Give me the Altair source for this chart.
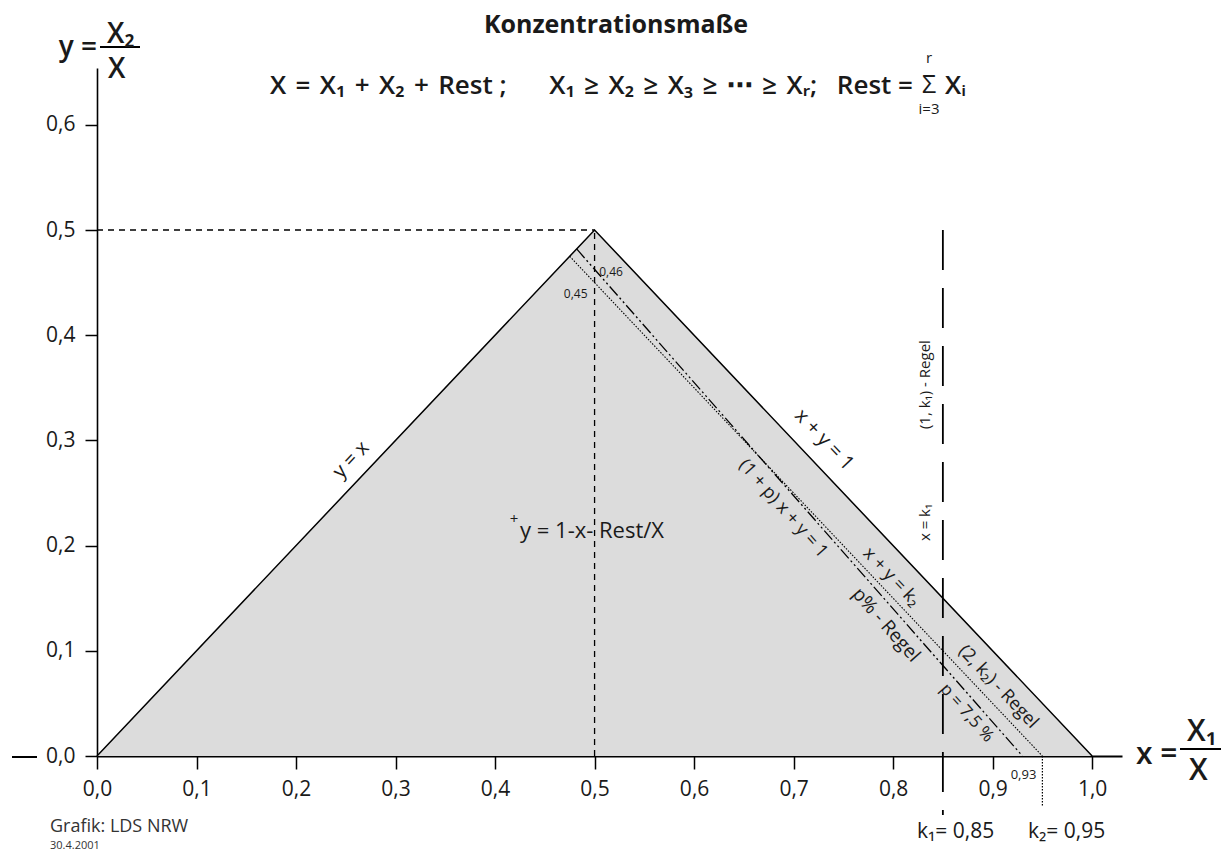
import altair as alt
import pandas as pd

FONT = "Open Sans, Noto Sans, DejaVu Sans, sans-serif"
INK = "#1a1a1a"

# ---- values ----
x_ticks = [0.0, 0.1, 0.2, 0.3, 0.4, 0.5, 0.6, 0.7, 0.8, 0.9, 1.0]
y_ticks = [0.0, 0.1, 0.2, 0.3, 0.4, 0.5, 0.6]

triangle_x = [0.0, 0.5, 1.0]
triangle_y = [0.0, 0.5, 0.0]

k1 = 0.85
k2 = 0.95
peak = 0.5

# segments: x, y, x2, y2
seg_peak_h = [0.0, 0.5, 0.5, 0.5]
seg_peak_v = [0.5, 0.0, 0.5, 0.5]
seg_k1 = [0.85, 0.5, 0.85, -0.056]
seg_k2_below = [0.95, 0.0, 0.95, -0.047]
seg_k2_line = [0.475, 0.475, 0.95, 0.0]      # x + y = k2
seg_p_line = [0.482, 0.482, 0.93, 0.0]       # (1+p)x + y = 1, p = 7,5 %

# annotations inside the plot: text, x, y, angle, size
ann_text = ["y = x", "x + y = 1", "(1 + p) x + y = 1", "x + y = k\u2082", "p% - Regel",
            "(2, k\u2082) - Regel", "p = 7,5 %", "(1, k\u2081) - Regel", "x = k\u2081",
            "0,46", "0,45", "0,93"]
ann_x = [0.2553, 0.7307, 0.6894, 0.798, 0.793, 0.9055, 0.874, 0.832, 0.832, 0.5166, 0.481, 0.931]
ann_y = [0.2815, 0.3005, 0.2349, 0.170, 0.1246, 0.0656, 0.0409, 0.353, 0.222, 0.460, 0.439, -0.018]
ann_angle = [313.4, 46.6, 48.6, 46.6, 48.6, 46.6, 48.6, 270, 270, 0, 0, 0]
ann_size = [20, 20, 18, 18, 19, 18, 17, 15, 15, 12, 12, 13]

# ---- layout ----
OX, OY = 97, 68          # page position of the plot origin
W, H = 1025, 688
XS = alt.Scale(domain=[0, 1.03], nice=False, zero=False)
YS = alt.Scale(domain=[0, 0.654], nice=False, zero=False)

label_expr = "replace(format(datum.value, '.1f'), '.', ',')"
xaxis = alt.Axis(values=x_ticks, labelExpr=label_expr, title=None, grid=False,
                 tickSize=13, tickWidth=1.5, tickColor="black", domainColor="black",
                 domainWidth=2, labelFontSize=21, labelFont=FONT, labelColor=INK,
                 labelPadding=9, labelFlush=False, labelOverlap=False)
yaxis = alt.Axis(values=y_ticks, labelExpr=label_expr, title=None, grid=False,
                 tickSize=12, tickWidth=1.5, tickColor="black", domainColor="black",
                 domainWidth=1.6, labelFontSize=21, labelFont=FONT, labelColor=INK,
                 labelPadding=10, labelFlush=False, labelOverlap=False)


def X(f="x"):
    return alt.X(f + ":Q", scale=XS, axis=xaxis)


def Y(f="y"):
    return alt.Y(f + ":Q", scale=YS, axis=yaxis)


tri = pd.DataFrame({"x": triangle_x, "y": triangle_y})
layers = []
layers.append(alt.Chart(tri).mark_area(color="#dcdcdc").encode(x=X(), y=Y()))
layers.append(alt.Chart(tri).mark_line(color="black", strokeWidth=1.5).encode(x=X(), y=Y()))


def seg(s, dash=None, width=1.3):
    df = pd.DataFrame({"x": [s[0]], "y": [s[1]], "x2": [s[2]], "y2": [s[3]]})
    kw = dict(color="black", strokeWidth=width)
    if dash:
        kw["strokeDash"] = dash
    return alt.Chart(df).mark_rule(**kw).encode(x=X(), y=Y(), x2="x2:Q", y2="y2:Q")


layers += [
    seg(seg_peak_h, [6, 5], 1.3),
    seg(seg_peak_v, [6, 5], 1.3),
    seg(seg_k1, [40, 18], 1.8),
    seg(seg_k2_below, [1.5, 1.5], 1.2),
    seg(seg_k2_line, [1.5, 1.5], 1.1),
    seg(seg_p_line, [12, 3, 2, 3, 2, 3], 1.3),
]

for t, ax, ay, ang, sz in zip(ann_text, ann_x, ann_y, ann_angle, ann_size):
    df = pd.DataFrame({"x": [ax], "y": [ay], "t": [t]})
    layers.append(alt.Chart(df).mark_text(font=FONT, fontSize=sz, angle=ang, color=INK,
                                          align="center", baseline="middle")
                  .encode(x=X(), y=Y(), text="t:N"))

# "+y = 1-x- Rest/X" label
df = pd.DataFrame({"x": [0.4191], "y": [0.2253], "t": ["+"]})
layers.append(alt.Chart(df).mark_text(font=FONT, fontSize=15, color=INK)
              .encode(x=X(), y=Y(), text="t:N"))
df = pd.DataFrame({"x": [0.4251], "y": [0.2073], "t": ["y = 1-x- Rest/X"]})
layers.append(alt.Chart(df).mark_text(font=FONT, fontSize=22, color=INK, align="left",
                                      baseline="alphabetic")
              .encode(x=X(), y=Y(), text="t:N"))


# ---- texts around the plot (page pixel positions) ----
def ptext(t, px, py, size, align="center", baseline="alphabetic", weight="normal", color=INK):
    return (alt.Chart(pd.DataFrame({"t": [t]}))
            .mark_text(font=FONT, fontSize=size, align=align, baseline=baseline,
                       fontWeight=weight, color=color)
            .encode(x=alt.value(px - OX), y=alt.value(py - OY), text="t:N"))


def prule(px1, px2, py, width=2):
    return (alt.Chart(pd.DataFrame({"a": [0]}))
            .mark_rule(color="black", strokeWidth=width)
            .encode(x=alt.value(px1 - OX), x2=alt.value(px2 - OX), y=alt.value(py - OY)))


HS = "\u200a"
EN = "\u2002"
chain = f"X\u2081{HS} \u2265 {HS}X\u2082{HS} \u2265 {HS}X\u2083{HS} \u2265 {HS}\u22ef{HS} \u2265 {HS}X\u1d63;{EN} Rest ="
layers += [
    ptext("Konzentrationsmaße", 616, 33, 25, weight="bold"),
    ptext(f"X{HS} = {HS}X\u2081{HS} + {HS}X\u2082{HS} + {HS}Rest ;", 270, 94, 26, align="left", weight=600),
    ptext(chain, 913, 94, 26, align="right", weight=600),
    ptext("\u03a3", 929, 93, 25, weight=500),
    ptext("r", 929, 63, 15),
    ptext("i=3", 929, 114, 15),
    ptext("X\u1d62", 945, 94, 26, align="left", weight=600),
    # y axis title
    ptext("y =", 97, 56, 28, align="right", weight=600),
    prule(100, 140, 47),
    ptext("X\u2082", 107, 43, 28, align="left", weight=600),
    ptext("X", 108, 78, 28, align="left", weight=600),
    # x axis title
    ptext("x =", 1136, 764, 30, align="left", weight=600),
    prule(1180, 1221, 749),
    ptext("X\u2081", 1187, 741, 30, align="left", weight=600),
    ptext("X", 1189, 780, 30, align="left", weight=600),
    # left dash on the x axis
    prule(12, 37, 757),
    # k labels
    ptext("k\u2081= 0,85", 917, 838, 21, align="left"),
    ptext("k\u2082= 0,95", 1028, 838, 21, align="left"),
    # credit
    ptext("Grafik: LDS NRW", 50, 832, 18, align="left", color="#333333"),
    ptext("30.4.2001", 50, 849, 11, align="left", color="#333333"),
]

chart = (alt.layer(*layers)
         .properties(width=W, height=H,
                     padding={"left": OX, "top": OY, "right": 1223 - OX - W, "bottom": 852 - OY - H},
                     autosize=alt.AutoSizeParams(type="none"),
                     background="white")
         .configure_view(strokeWidth=0))

chart.save("out.html", embed_options={"renderer": "svg", "actions": False})
